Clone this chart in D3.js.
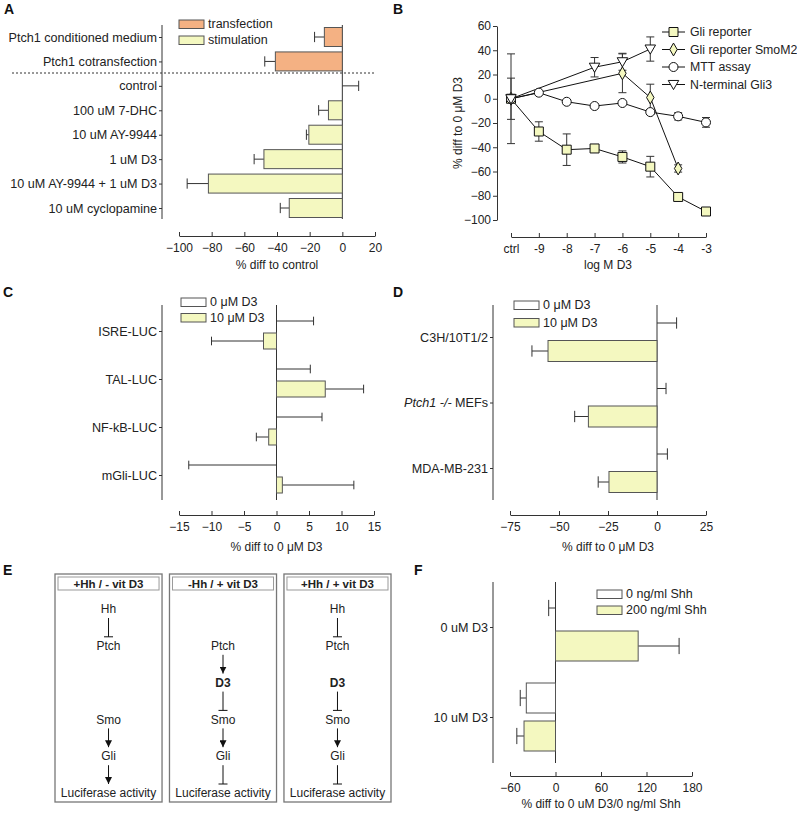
<!DOCTYPE html>
<html><head><meta charset="utf-8">
<script src="https://cdn.jsdelivr.net/npm/d3@7"></script>
<style>body{margin:0;background:#fff} text{font-family:Arial,"Liberation Sans",sans-serif}</style>
</head><body><svg id="c" width="797" height="813"></svg>
<script>
// ---------- DATA ----------
// Panel A
const aCategories = ["Ptch1 conditioned medium","Ptch1 cotransfection","control","100 uM 7-DHC","10 uM AY-9944","1 uM D3","10 uM AY-9944 + 1 uM D3","10 uM cyclopamine"];
const aGroups = ["transfection","transfection","stimulation","stimulation","stimulation","stimulation","stimulation","stimulation"];
const aValues = [-11,-41,0,-8.5,-20.5,-48,-82,-32.5];
const aErrors = [-6,-6.5,10,-6,-1.5,-6,-13,-5.5];
const aTicks = [-100,-80,-60,-40,-20,0,20];
const aLegend = ["transfection","stimulation"];

// Panel B
const bX = ["ctrl","-9","-8","-7","-6","-5","-4","-3"];
const bYTicks = [-100,-80,-60,-40,-20,0,20,40,60];
const bNames = ["Gli reporter","Gli reporter SmoM2","MTT assay","N-terminal Gli3"];
const gliX = ["ctrl","-9","-8","-7","-6","-5","-4","-3"];
const gliValues = [0,-27,-42,-41,-48,-56,-81,-93];
const gliErrors = [37,8,13,1.5,5,8.5,1.5,1.5];
const smoX = ["ctrl","-6","-5","-4"];
const smoValues = [0,21,1,-57.5];
const smoErrors = [17,16,11,3];
const mttX = ["ctrl","-9","-8","-7","-6","-5","-4","-3"];
const mttValues = [0,5,-2.5,-6,-3.5,-11,-14.5,-19.5];
const mttErrors = [0,1,0.5,0.5,1,2,3,4];
const gli3X = ["ctrl","-7","-6","-5"];
const gli3Values = [0,26,30.5,41];
const gli3Errors = [0,8,7,10];

// Panel C
const cCategories = ["ISRE-LUC","TAL-LUC","NF-kB-LUC","mGli-LUC"];
const c0Values = [0,0,0,0];
const c0Errors = [5.7,5.2,7,-13.5];
const c10Values = [-2,7.5,-1.2,0.9];
const c10Errors = [-8,5.9,-1.9,11];
const cTicks = [-15,-10,-5,0,5,10,15];
const cLegend = ["0 μM D3","10 μM D3"];

// Panel D
const dCategories = ["C3H/10T1/2","Ptch1 -/- MEFs","MDA-MB-231"];
const d0Values = [0,0,0];
const d0Errors = [10,4.6,5.3];
const d10Values = [-55.6,-35,-24.5];
const d10Errors = [-8.2,-7,-5.5];
const dTicks = [-75,-50,-25,0,25];
const dLegend = ["0 μM D3","10 μM D3"];

// Panel E
const eTitles = ["+Hh / - vit D3","-Hh / + vit D3","+Hh / + vit D3"];
const eNodes = ["Hh","Ptch","D3","Smo","Gli","Luciferase activity"];
const eShown = [["Hh","Ptch","Smo","Gli","Luciferase activity"],["Ptch","D3","Smo","Gli","Luciferase activity"],["Hh","Ptch","D3","Smo","Gli","Luciferase activity"]];
const eLinks = [
  [["Hh","Ptch","inhibit"],["Smo","Gli","activate"],["Gli","Luciferase activity","activate"]],
  [["Ptch","D3","activate"],["D3","Smo","inhibit"],["Smo","Gli","activate"],["Gli","Luciferase activity","inhibit"]],
  [["Hh","Ptch","inhibit"],["D3","Smo","inhibit"],["Smo","Gli","activate"],["Gli","Luciferase activity","inhibit"]]
];

// Panel F
const fCategories = ["0 uM D3","10 uM D3"];
const f0Values = [0,-38.5];
const f0Errors = [-9,-8];
const f200Values = [109,-41.5];
const f200Errors = [54,-9.5];
const fTicks = [-60,0,60,120,180];
const fLegend = ["0 ng/ml Shh","200 ng/ml Shh"];

// ---------- DRAWING ----------
const svg = d3.select("#c");
const INK = "#333", BAR_STROKE = "#555";
const ORANGE = "#f4b183", YELLOW = "#f4f8c0", WHITE = "#ffffff";

function panelLabel(t,x,y){
  svg.append("text").attr("x",x).attr("y",y).attr("font-weight","bold").attr("font-size",14).attr("fill","#111").text(t);
}
function styleAxis(g, fs){
  g.selectAll("path,line").attr("stroke",INK).attr("stroke-width",1);
  g.selectAll("text").attr("font-size",fs||12).attr("fill","#222").attr("font-family",'Arial,"Liberation Sans",sans-serif');
}
function vline(x,y1,y2){ svg.append("line").attr("x1",x).attr("x2",x).attr("y1",y1).attr("y2",y2).attr("stroke",INK); }

function hbarPanel(cfg){
  const x = d3.scaleLinear().domain(cfg.xDomain).range(cfg.xRange);
  const y = d3.scalePoint().domain(cfg.categories).range(cfg.yRange);
  const ga = svg.append("g").attr("transform",`translate(${cfg.axisX},0)`)
    .call(d3.axisLeft(y).tickSize(3).tickPadding(2));
  ga.select(".domain").remove();
  styleAxis(ga, 12.6);
  if (cfg.labelHook) ga.selectAll(".tick text").each(cfg.labelHook);
  vline(cfg.axisX, cfg.axisTop, cfg.axisBottom);
  vline(x(0), cfg.axisTop, cfg.axisBottom);
  cfg.series.forEach(s=>{
    const rows = cfg.categories.map((c,i)=>({c, v:s.values[i], e:s.errors[i], fill: s.fills ? s.fills[i] : s.fill}));
    const g = svg.append("g");
    const h = cfg.barH;
    g.selectAll("line.err").data(rows).join("line").attr("class","err")
      .attr("x1",d=>x(d.v)).attr("x2",d=>x(d.v+d.e))
      .attr("y1",d=>y(d.c)+s.offset).attr("y2",d=>y(d.c)+s.offset)
      .attr("stroke",INK);
    g.selectAll("line.cap").data(rows).join("line").attr("class","cap")
      .attr("x1",d=>x(d.v+d.e)).attr("x2",d=>x(d.v+d.e))
      .attr("y1",d=>y(d.c)+s.offset-h*0.27).attr("y2",d=>y(d.c)+s.offset+h*0.27)
      .attr("stroke",INK);
    g.selectAll("rect").data(rows.filter(d=>d.v!==0)).join("rect")
      .attr("x",d=>x(Math.min(0,d.v))).attr("width",d=>Math.abs(x(d.v)-x(0)))
      .attr("y",d=>y(d.c)+s.offset-h/2).attr("height",h)
      .attr("fill",d=>d.fill).attr("stroke",BAR_STROKE);
  });
  const gx = svg.append("g").attr("transform",`translate(0,${cfg.xAxisY})`)
    .call(d3.axisBottom(x).tickValues(cfg.ticks).tickSize(-4).tickSizeOuter(0).tickPadding(7).tickFormat(d3.format("d")));
  styleAxis(gx);
  svg.append("text").attr("x",(cfg.xRange[0]+cfg.xRange[1])/2).attr("y",cfg.titleY)
    .attr("text-anchor","middle").attr("font-size",12).attr("fill","#222").text(cfg.title);
  return {x,y};
}

function legendRows(items, x, ys, fills){
  items.forEach((t,i)=>{
    svg.append("rect").attr("x",x).attr("y",ys[i]-4).attr("width",25).attr("height",8.5)
      .attr("fill",fills[i]).attr("stroke",BAR_STROKE);
    svg.append("text").attr("x",x+29).attr("y",ys[i]).attr("dy","0.35em").attr("font-size",12.5).attr("fill","#222").text(t);
  });
}

// ----- Panel A -----
panelLabel("A",4,14);
const groupColor = {transfection: ORANGE, stimulation: YELLOW};
hbarPanel({
  xDomain:[-100,20], xRange:[179,375], categories:aCategories, yRange:[37,208],
  axisX:162, axisTop:25, axisBottom:219, barH:19,
  series:[{values:aValues, errors:aErrors, fills:aGroups.map(g=>groupColor[g]), offset:0}],
  xAxisY:236, ticks:aTicks, title:"% diff to control", titleY:269
});
svg.append("line").attr("x1",12).attr("x2",376).attr("y1",73).attr("y2",73)
  .attr("stroke",INK).attr("stroke-dasharray","2,2");
legendRows(aLegend,179,[24,40],[ORANGE,YELLOW]);

// ----- Panel B -----
panelLabel("B",393,14);
(function(){
  const x = d3.scalePoint().domain(bX).range([511,706]);
  const y = d3.scaleLinear().domain([-100,60]).range([220,26]);
  const gy = svg.append("g").attr("transform","translate(497,0)")
    .call(d3.axisLeft(y).tickValues(bYTicks).tickSize(4).tickPadding(2).tickSizeOuter(0));
  styleAxis(gy);
  const gx = svg.append("g").attr("transform","translate(0,237)")
    .call(d3.axisBottom(x).tickSize(-4).tickSizeOuter(0).tickPadding(7));
  styleAxis(gx);
  svg.append("text").attr("transform","translate(462,123) rotate(-90)").attr("text-anchor","middle")
    .attr("font-size",12).attr("fill","#222").text("% diff to 0 μM D3");
  svg.append("text").attr("x",608).attr("y",269).attr("text-anchor","middle")
    .attr("font-size",12).attr("fill","#222").text("log M D3");

  const series = [
    {name:bNames[0], xs:gliX, vs:gliValues, es:gliErrors, sym:d3.symbolSquare, size:81, fill:YELLOW, rot:0},
    {name:bNames[1], xs:smoX, vs:smoValues, es:smoErrors, sym:d3.symbolDiamond, size:48, fill:YELLOW, rot:0},
    {name:bNames[2], xs:mttX, vs:mttValues, es:mttErrors, sym:d3.symbolCircle, size:64, fill:WHITE, rot:0},
    {name:bNames[3], xs:gli3X, vs:gli3Values, es:gli3Errors, sym:d3.symbolTriangle, size:48, fill:WHITE, rot:180}
  ];
  const line = d3.line().x(d=>x(d.x)).y(d=>y(d.v));
  const rowsOf = s => s.xs.map((xx,i)=>({x:xx, v:s.vs[i], e:s.es[i]}));
  series.forEach(s=>{
    svg.append("path").attr("d",line(rowsOf(s))).attr("fill","none").attr("stroke","#111").attr("stroke-width",1);
  });
  series.forEach(s=>{
    const g = svg.append("g");
    const rows = rowsOf(s).filter(d=>d.e>0);
    g.selectAll("line.v").data(rows).join("line").attr("x1",d=>x(d.x)).attr("x2",d=>x(d.x))
      .attr("y1",d=>y(d.v-d.e)).attr("y2",d=>y(d.v+d.e)).attr("stroke",INK);
    [1,-1].forEach(sg=>{
      g.selectAll("line.c"+sg).data(rows).join("line").attr("x1",d=>x(d.x)-4).attr("x2",d=>x(d.x)+4)
        .attr("y1",d=>y(d.v+sg*d.e)).attr("y2",d=>y(d.v+sg*d.e)).attr("stroke",INK);
    });
  });
  series.forEach(s=>{
    svg.append("g").selectAll("path").data(rowsOf(s)).join("path")
      .attr("d",d3.symbol(s.sym,s.size))
      .attr("transform",d=>`translate(${x(d.x)},${y(d.v)+(s.rot?-1:0)}) rotate(${s.rot})`)
      .attr("fill",s.fill).attr("stroke","#111").attr("stroke-width",1);
  });
  const ly = [32,49.5,67,84.5];
  series.forEach((s,i)=>{
    svg.append("line").attr("x1",662).attr("x2",685).attr("y1",ly[i]).attr("y2",ly[i]).attr("stroke","#111");
    svg.append("path").attr("d",d3.symbol(s.sym,s.size)).attr("transform",`translate(673.5,${ly[i]+(s.rot?-1:0)}) rotate(${s.rot})`)
      .attr("fill",s.fill).attr("stroke","#111");
    svg.append("text").attr("x",690).attr("y",ly[i]).attr("dy","0.35em").attr("font-size",12.3).attr("fill","#222").text(s.name);
  });
})();

// ----- Panel C -----
panelLabel("C",3,297);
hbarPanel({
  xDomain:[-15,15], xRange:[179,374], categories:cCategories, yRange:[331,475],
  axisX:162, axisTop:305, axisBottom:500, barH:16,
  series:[{values:c0Values, errors:c0Errors, fill:WHITE, offset:-10},
          {values:c10Values, errors:c10Errors, fill:YELLOW, offset:10}],
  xAxisY:515, ticks:cTicks, title:"% diff to 0 μM D3", titleY:551
});
legendRows(cLegend,181,[302,317.5],[WHITE,YELLOW]);

// ----- Panel D -----
panelLabel("D",393,297);
hbarPanel({
  xDomain:[-75,25], xRange:[510,706], categories:dCategories, yRange:[337,468],
  axisX:493, axisTop:305, axisBottom:500, barH:21,
  series:[{values:d0Values, errors:d0Errors, fill:WHITE, offset:-14},
          {values:d10Values, errors:d10Errors, fill:YELLOW, offset:14}],
  xAxisY:515, ticks:dTicks, title:"% diff to 0 μM D3", titleY:551,
  labelHook:function(d){
    if (d.indexOf("Ptch1")===0){
      const t = d3.select(this); t.text("");
      t.append("tspan").attr("font-style","italic").text("Ptch1 -/-");
      t.append("tspan").text(" MEFs");
    }
  }
});
legendRows(dLegend,514,[305,322.5],[WHITE,YELLOW]);

// ----- Panel E -----
panelLabel("E",3,575);
(function(){
  const bx = d3.scaleBand().domain(eTitles).range([55,391]).paddingInner(0.065);
  const ny = d3.scalePoint().domain(eNodes).range([609,793]);
  svg.append("defs").append("marker").attr("id","arr").attr("viewBox","0 0 10 10")
    .attr("refX",10).attr("refY",5).attr("markerWidth",7).attr("markerHeight",7)
    .attr("markerUnits","userSpaceOnUse").attr("orient","auto")
    .append("path").attr("d","M0,0 L10,5 L0,10 z").attr("fill","#111");
  eTitles.forEach((t,i)=>{
    const x0 = bx(t), w = bx.bandwidth(), cx = x0 + w/2;
    svg.append("rect").attr("x",x0).attr("y",574).attr("width",w).attr("height",228)
      .attr("fill","none").attr("stroke","#777").attr("stroke-width",1.3);
    svg.append("rect").attr("x",x0+3).attr("y",577).attr("width",w-6).attr("height",13)
      .attr("fill","none").attr("stroke","#999").attr("stroke-width",1);
    svg.append("text").attr("x",cx).attr("y",583.5).attr("dy","0.35em").attr("text-anchor","middle")
      .attr("font-size",11.5).attr("font-weight","bold").attr("fill","#222").text(t);
    svg.append("g").selectAll("text").data(eShown[i]).join("text")
      .attr("x",cx).attr("y",d=>ny(d)).attr("dy","0.35em").attr("text-anchor","middle")
      .attr("font-size",12).attr("font-weight",d=>d==="D3"?"bold":"normal").attr("fill","#222").text(d=>d);
    eLinks[i].forEach(([a,b,type])=>{
      const y1 = ny(a)+9, y2 = ny(b)-9;
      const l = svg.append("line").attr("x1",cx).attr("x2",cx).attr("y1",y1).attr("y2",y2).attr("stroke","#111");
      if (type==="activate") l.attr("marker-end","url(#arr)");
      else svg.append("line").attr("x1",cx-4.5).attr("x2",cx+4.5).attr("y1",y2).attr("y2",y2).attr("stroke","#111");
    });
  });
})();

// ----- Panel F -----
panelLabel("F",414,575);
hbarPanel({
  xDomain:[-60,180], xRange:[510,692], categories:fCategories, yRange:[627,717],
  axisX:493, axisTop:582, axisBottom:763, barH:30,
  series:[{values:f0Values, errors:f0Errors, fill:WHITE, offset:-19},
          {values:f200Values, errors:f200Errors, fill:YELLOW, offset:19}],
  xAxisY:776, ticks:fTicks, title:"% diff to 0 uM D3/0 ng/ml Shh", titleY:808
});
legendRows(fLegend,597,[594,610],[WHITE,YELLOW]);
</script></body></html>
